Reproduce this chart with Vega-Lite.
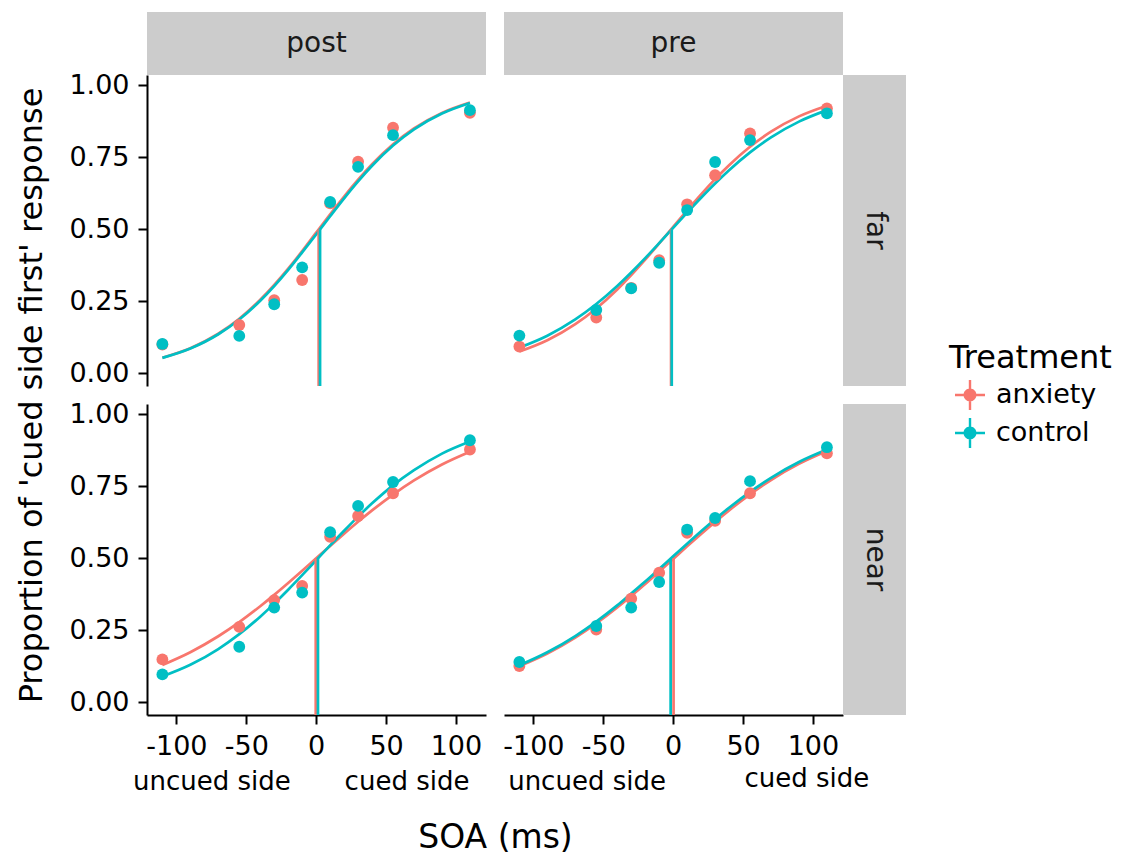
{
"$schema": "https://vega.github.io/schema/vega-lite/v6.json",
"background": "white",
"padding": {"left": 15, "top": 12, "right": 10, "bottom": 5},
"datasets": {
"strips": [{"label": "post"}, {"label": "pre"}, {"label": "far"}, {"label": "near"}],
"main": [
{"kind":"fit","time":"post","dist":"far","trt":"anxiety","soa":-110,"p":0.0543},
{"kind":"fit","time":"post","dist":"far","trt":"anxiety","soa":-90,"p":0.0872},
{"kind":"fit","time":"post","dist":"far","trt":"anxiety","soa":-70,"p":0.1375},
{"kind":"fit","time":"post","dist":"far","trt":"anxiety","soa":-55,"p":0.1895},
{"kind":"fit","time":"post","dist":"far","trt":"anxiety","soa":-40,"p":0.2553},
{"kind":"fit","time":"post","dist":"far","trt":"anxiety","soa":-30,"p":0.3069},
{"kind":"fit","time":"post","dist":"far","trt":"anxiety","soa":-20,"p":0.3635},
{"kind":"fit","time":"post","dist":"far","trt":"anxiety","soa":-10,"p":0.4243},
{"kind":"fit","time":"post","dist":"far","trt":"anxiety","soa":0,"p":0.4885},
{"kind":"fit","time":"post","dist":"far","trt":"anxiety","soa":10,"p":0.5520},
{"kind":"fit","time":"post","dist":"far","trt":"anxiety","soa":20,"p":0.6140},
{"kind":"fit","time":"post","dist":"far","trt":"anxiety","soa":30,"p":0.6723},
{"kind":"fit","time":"post","dist":"far","trt":"anxiety","soa":40,"p":0.7259},
{"kind":"fit","time":"post","dist":"far","trt":"anxiety","soa":55,"p":0.7953},
{"kind":"fit","time":"post","dist":"far","trt":"anxiety","soa":70,"p":0.8505},
{"kind":"fit","time":"post","dist":"far","trt":"anxiety","soa":90,"p":0.9045},
{"kind":"fit","time":"post","dist":"far","trt":"anxiety","soa":110,"p":0.9404},
{"kind":"fit","time":"post","dist":"far","trt":"control","soa":-110,"p":0.0537},
{"kind":"fit","time":"post","dist":"far","trt":"control","soa":-90,"p":0.0862},
{"kind":"fit","time":"post","dist":"far","trt":"control","soa":-70,"p":0.1357},
{"kind":"fit","time":"post","dist":"far","trt":"control","soa":-55,"p":0.1871},
{"kind":"fit","time":"post","dist":"far","trt":"control","soa":-40,"p":0.2521},
{"kind":"fit","time":"post","dist":"far","trt":"control","soa":-30,"p":0.3031},
{"kind":"fit","time":"post","dist":"far","trt":"control","soa":-20,"p":0.3595},
{"kind":"fit","time":"post","dist":"far","trt":"control","soa":-10,"p":0.4201},
{"kind":"fit","time":"post","dist":"far","trt":"control","soa":0,"p":0.4821},
{"kind":"fit","time":"post","dist":"far","trt":"control","soa":10,"p":0.5456},
{"kind":"fit","time":"post","dist":"far","trt":"control","soa":20,"p":0.6078},
{"kind":"fit","time":"post","dist":"far","trt":"control","soa":30,"p":0.6667},
{"kind":"fit","time":"post","dist":"far","trt":"control","soa":40,"p":0.7209},
{"kind":"fit","time":"post","dist":"far","trt":"control","soa":55,"p":0.7911},
{"kind":"fit","time":"post","dist":"far","trt":"control","soa":70,"p":0.8473},
{"kind":"fit","time":"post","dist":"far","trt":"control","soa":90,"p":0.9023},
{"kind":"fit","time":"post","dist":"far","trt":"control","soa":110,"p":0.9390},
{"kind":"fit","time":"pre","dist":"far","trt":"anxiety","soa":-110,"p":0.0755},
{"kind":"fit","time":"pre","dist":"far","trt":"anxiety","soa":-90,"p":0.1147},
{"kind":"fit","time":"pre","dist":"far","trt":"anxiety","soa":-70,"p":0.1706},
{"kind":"fit","time":"pre","dist":"far","trt":"anxiety","soa":-55,"p":0.2252},
{"kind":"fit","time":"pre","dist":"far","trt":"anxiety","soa":-40,"p":0.2912},
{"kind":"fit","time":"pre","dist":"far","trt":"anxiety","soa":-30,"p":0.3411},
{"kind":"fit","time":"pre","dist":"far","trt":"anxiety","soa":-20,"p":0.3947},
{"kind":"fit","time":"pre","dist":"far","trt":"anxiety","soa":-10,"p":0.4511},
{"kind":"fit","time":"pre","dist":"far","trt":"anxiety","soa":0,"p":0.5087},
{"kind":"fit","time":"pre","dist":"far","trt":"anxiety","soa":10,"p":0.566},
{"kind":"fit","time":"pre","dist":"far","trt":"anxiety","soa":20,"p":0.6217},
{"kind":"fit","time":"pre","dist":"far","trt":"anxiety","soa":30,"p":0.6743},
{"kind":"fit","time":"pre","dist":"far","trt":"anxiety","soa":40,"p":0.7229},
{"kind":"fit","time":"pre","dist":"far","trt":"anxiety","soa":55,"p":0.7867},
{"kind":"fit","time":"pre","dist":"far","trt":"anxiety","soa":70,"p":0.8392},
{"kind":"fit","time":"pre","dist":"far","trt":"anxiety","soa":90,"p":0.8923},
{"kind":"fit","time":"pre","dist":"far","trt":"anxiety","soa":110,"p":0.9293},
{"kind":"fit","time":"pre","dist":"far","trt":"control","soa":-110,"p":0.0893},
{"kind":"fit","time":"pre","dist":"far","trt":"control","soa":-90,"p":0.1307},
{"kind":"fit","time":"pre","dist":"far","trt":"control","soa":-70,"p":0.1871},
{"kind":"fit","time":"pre","dist":"far","trt":"control","soa":-55,"p":0.2406},
{"kind":"fit","time":"pre","dist":"far","trt":"control","soa":-40,"p":0.3035},
{"kind":"fit","time":"pre","dist":"far","trt":"control","soa":-30,"p":0.3503},
{"kind":"fit","time":"pre","dist":"far","trt":"control","soa":-20,"p":0.4001},
{"kind":"fit","time":"pre","dist":"far","trt":"control","soa":-10,"p":0.4522},
{"kind":"fit","time":"pre","dist":"far","trt":"control","soa":0,"p":0.5053},
{"kind":"fit","time":"pre","dist":"far","trt":"control","soa":10,"p":0.5583},
{"kind":"fit","time":"pre","dist":"far","trt":"control","soa":20,"p":0.6099},
{"kind":"fit","time":"pre","dist":"far","trt":"control","soa":30,"p":0.6593},
{"kind":"fit","time":"pre","dist":"far","trt":"control","soa":40,"p":0.7054},
{"kind":"fit","time":"pre","dist":"far","trt":"control","soa":55,"p":0.7673},
{"kind":"fit","time":"pre","dist":"far","trt":"control","soa":70,"p":0.8194},
{"kind":"fit","time":"pre","dist":"far","trt":"control","soa":90,"p":0.8741},
{"kind":"fit","time":"pre","dist":"far","trt":"control","soa":110,"p":0.914},
{"kind":"fit","time":"post","dist":"near","trt":"anxiety","soa":-110,"p":0.1298},
{"kind":"fit","time":"post","dist":"near","trt":"anxiety","soa":-90,"p":0.1741},
{"kind":"fit","time":"post","dist":"near","trt":"anxiety","soa":-70,"p":0.2295},
{"kind":"fit","time":"post","dist":"near","trt":"anxiety","soa":-55,"p":0.2786},
{"kind":"fit","time":"post","dist":"near","trt":"anxiety","soa":-40,"p":0.3336},
{"kind":"fit","time":"post","dist":"near","trt":"anxiety","soa":-30,"p":0.3731},
{"kind":"fit","time":"post","dist":"near","trt":"anxiety","soa":-20,"p":0.4144},
{"kind":"fit","time":"post","dist":"near","trt":"anxiety","soa":-10,"p":0.4569},
{"kind":"fit","time":"post","dist":"near","trt":"anxiety","soa":0,"p":0.5},
{"kind":"fit","time":"post","dist":"near","trt":"anxiety","soa":10,"p":0.5431},
{"kind":"fit","time":"post","dist":"near","trt":"anxiety","soa":20,"p":0.5856},
{"kind":"fit","time":"post","dist":"near","trt":"anxiety","soa":30,"p":0.6269},
{"kind":"fit","time":"post","dist":"near","trt":"anxiety","soa":40,"p":0.6664},
{"kind":"fit","time":"post","dist":"near","trt":"anxiety","soa":55,"p":0.7214},
{"kind":"fit","time":"post","dist":"near","trt":"anxiety","soa":70,"p":0.7705},
{"kind":"fit","time":"post","dist":"near","trt":"anxiety","soa":90,"p":0.8259},
{"kind":"fit","time":"post","dist":"near","trt":"anxiety","soa":110,"p":0.8702},
{"kind":"fit","time":"post","dist":"near","trt":"control","soa":-110,"p":0.0899},
{"kind":"fit","time":"post","dist":"near","trt":"control","soa":-90,"p":0.1302},
{"kind":"fit","time":"post","dist":"near","trt":"control","soa":-70,"p":0.1849},
{"kind":"fit","time":"post","dist":"near","trt":"control","soa":-55,"p":0.2367},
{"kind":"fit","time":"post","dist":"near","trt":"control","soa":-40,"p":0.2975},
{"kind":"fit","time":"post","dist":"near","trt":"control","soa":-30,"p":0.3428},
{"kind":"fit","time":"post","dist":"near","trt":"control","soa":-20,"p":0.391},
{"kind":"fit","time":"post","dist":"near","trt":"control","soa":-10,"p":0.4415},
{"kind":"fit","time":"post","dist":"near","trt":"control","soa":0,"p":0.4932},
{"kind":"fit","time":"post","dist":"near","trt":"control","soa":10,"p":0.5451},
{"kind":"fit","time":"post","dist":"near","trt":"control","soa":20,"p":0.596},
{"kind":"fit","time":"post","dist":"near","trt":"control","soa":30,"p":0.645},
{"kind":"fit","time":"post","dist":"near","trt":"control","soa":40,"p":0.691},
{"kind":"fit","time":"post","dist":"near","trt":"control","soa":55,"p":0.7534},
{"kind":"fit","time":"post","dist":"near","trt":"control","soa":70,"p":0.806},
{"kind":"fit","time":"post","dist":"near","trt":"control","soa":90,"p":0.8636},
{"kind":"fit","time":"post","dist":"near","trt":"control","soa":110,"p":0.9056},
{"kind":"fit","time":"pre","dist":"near","trt":"anxiety","soa":-110,"p":0.1257},
{"kind":"fit","time":"pre","dist":"near","trt":"anxiety","soa":-90,"p":0.1697},
{"kind":"fit","time":"pre","dist":"near","trt":"anxiety","soa":-70,"p":0.225},
{"kind":"fit","time":"pre","dist":"near","trt":"anxiety","soa":-55,"p":0.2741},
{"kind":"fit","time":"pre","dist":"near","trt":"anxiety","soa":-40,"p":0.3294},
{"kind":"fit","time":"pre","dist":"near","trt":"anxiety","soa":-30,"p":0.3693},
{"kind":"fit","time":"pre","dist":"near","trt":"anxiety","soa":-20,"p":0.411},
{"kind":"fit","time":"pre","dist":"near","trt":"anxiety","soa":-10,"p":0.4541},
{"kind":"fit","time":"pre","dist":"near","trt":"anxiety","soa":0,"p":0.4978},
{"kind":"fit","time":"pre","dist":"near","trt":"anxiety","soa":10,"p":0.5416},
{"kind":"fit","time":"pre","dist":"near","trt":"anxiety","soa":20,"p":0.5847},
{"kind":"fit","time":"pre","dist":"near","trt":"anxiety","soa":30,"p":0.6266},
{"kind":"fit","time":"pre","dist":"near","trt":"anxiety","soa":40,"p":0.6667},
{"kind":"fit","time":"pre","dist":"near","trt":"anxiety","soa":55,"p":0.7224},
{"kind":"fit","time":"pre","dist":"near","trt":"anxiety","soa":70,"p":0.772},
{"kind":"fit","time":"pre","dist":"near","trt":"anxiety","soa":90,"p":0.8279},
{"kind":"fit","time":"pre","dist":"near","trt":"anxiety","soa":110,"p":0.8724},
{"kind":"fit","time":"pre","dist":"near","trt":"control","soa":-110,"p":0.1286},
{"kind":"fit","time":"pre","dist":"near","trt":"control","soa":-90,"p":0.1737},
{"kind":"fit","time":"pre","dist":"near","trt":"control","soa":-70,"p":0.2302},
{"kind":"fit","time":"pre","dist":"near","trt":"control","soa":-55,"p":0.2804},
{"kind":"fit","time":"pre","dist":"near","trt":"control","soa":-40,"p":0.3367},
{"kind":"fit","time":"pre","dist":"near","trt":"control","soa":-30,"p":0.3781},
{"kind":"fit","time":"pre","dist":"near","trt":"control","soa":-20,"p":0.4195},
{"kind":"fit","time":"pre","dist":"near","trt":"control","soa":-10,"p":0.463},
{"kind":"fit","time":"pre","dist":"near","trt":"control","soa":0,"p":0.507},
{"kind":"fit","time":"pre","dist":"near","trt":"control","soa":10,"p":0.551},
{"kind":"fit","time":"pre","dist":"near","trt":"control","soa":20,"p":0.5942},
{"kind":"fit","time":"pre","dist":"near","trt":"control","soa":30,"p":0.6359},
{"kind":"fit","time":"pre","dist":"near","trt":"control","soa":40,"p":0.6757},
{"kind":"fit","time":"pre","dist":"near","trt":"control","soa":55,"p":0.7309},
{"kind":"fit","time":"pre","dist":"near","trt":"control","soa":70,"p":0.7797},
{"kind":"fit","time":"pre","dist":"near","trt":"control","soa":90,"p":0.8344},
{"kind":"fit","time":"pre","dist":"near","trt":"control","soa":110,"p":0.8776},
{"kind":"pse","time":"post","dist":"far","trt":"anxiety","soa":1.8,"p":0.5},
{"kind":"pse","time":"post","dist":"far","trt":"control","soa":2.8,"p":0.5},
{"kind":"pse","time":"pre","dist":"far","trt":"anxiety","soa":-1.5,"p":0.5},
{"kind":"pse","time":"pre","dist":"far","trt":"control","soa":-1.0,"p":0.5},
{"kind":"pse","time":"post","dist":"near","trt":"anxiety","soa":-0.3,"p":0.5},
{"kind":"pse","time":"post","dist":"near","trt":"control","soa":1.3,"p":0.5},
{"kind":"pse","time":"pre","dist":"near","trt":"anxiety","soa":0.3,"p":0.5},
{"kind":"pse","time":"pre","dist":"near","trt":"control","soa":-1.8,"p":0.5},
{"kind":"pt","time":"post","dist":"far","trt":"anxiety","soa":-110,"p":0.10},
{"kind":"pt","time":"post","dist":"far","trt":"anxiety","soa":-55,"p":0.168},
{"kind":"pt","time":"post","dist":"far","trt":"anxiety","soa":-30,"p":0.254},
{"kind":"pt","time":"post","dist":"far","trt":"anxiety","soa":-10,"p":0.324},
{"kind":"pt","time":"post","dist":"far","trt":"anxiety","soa":10,"p":0.59},
{"kind":"pt","time":"post","dist":"far","trt":"anxiety","soa":30,"p":0.735},
{"kind":"pt","time":"post","dist":"far","trt":"anxiety","soa":55,"p":0.853},
{"kind":"pt","time":"post","dist":"far","trt":"anxiety","soa":110,"p":0.905},
{"kind":"pt","time":"pre","dist":"far","trt":"anxiety","soa":-110,"p":0.093},
{"kind":"pt","time":"pre","dist":"far","trt":"anxiety","soa":-55,"p":0.194},
{"kind":"pt","time":"pre","dist":"far","trt":"anxiety","soa":-30,"p":0.297},
{"kind":"pt","time":"pre","dist":"far","trt":"anxiety","soa":-10,"p":0.393},
{"kind":"pt","time":"pre","dist":"far","trt":"anxiety","soa":10,"p":0.587},
{"kind":"pt","time":"pre","dist":"far","trt":"anxiety","soa":30,"p":0.688},
{"kind":"pt","time":"pre","dist":"far","trt":"anxiety","soa":55,"p":0.833},
{"kind":"pt","time":"pre","dist":"far","trt":"anxiety","soa":110,"p":0.92},
{"kind":"pt","time":"post","dist":"near","trt":"anxiety","soa":-110,"p":0.149},
{"kind":"pt","time":"post","dist":"near","trt":"anxiety","soa":-55,"p":0.262},
{"kind":"pt","time":"post","dist":"near","trt":"anxiety","soa":-30,"p":0.355},
{"kind":"pt","time":"post","dist":"near","trt":"anxiety","soa":-10,"p":0.404},
{"kind":"pt","time":"post","dist":"near","trt":"anxiety","soa":10,"p":0.575},
{"kind":"pt","time":"post","dist":"near","trt":"anxiety","soa":30,"p":0.647},
{"kind":"pt","time":"post","dist":"near","trt":"anxiety","soa":55,"p":0.726},
{"kind":"pt","time":"post","dist":"near","trt":"anxiety","soa":110,"p":0.878},
{"kind":"pt","time":"pre","dist":"near","trt":"anxiety","soa":-110,"p":0.126},
{"kind":"pt","time":"pre","dist":"near","trt":"anxiety","soa":-55,"p":0.253},
{"kind":"pt","time":"pre","dist":"near","trt":"anxiety","soa":-30,"p":0.36},
{"kind":"pt","time":"pre","dist":"near","trt":"anxiety","soa":-10,"p":0.45},
{"kind":"pt","time":"pre","dist":"near","trt":"anxiety","soa":10,"p":0.589},
{"kind":"pt","time":"pre","dist":"near","trt":"anxiety","soa":30,"p":0.63},
{"kind":"pt","time":"pre","dist":"near","trt":"anxiety","soa":55,"p":0.726},
{"kind":"pt","time":"pre","dist":"near","trt":"anxiety","soa":110,"p":0.865},
{"kind":"pt","time":"post","dist":"far","trt":"control","soa":-110,"p":0.102},
{"kind":"pt","time":"post","dist":"far","trt":"control","soa":-55,"p":0.13},
{"kind":"pt","time":"post","dist":"far","trt":"control","soa":-30,"p":0.24},
{"kind":"pt","time":"post","dist":"far","trt":"control","soa":-10,"p":0.368},
{"kind":"pt","time":"post","dist":"far","trt":"control","soa":10,"p":0.595},
{"kind":"pt","time":"post","dist":"far","trt":"control","soa":30,"p":0.717},
{"kind":"pt","time":"post","dist":"far","trt":"control","soa":55,"p":0.827},
{"kind":"pt","time":"post","dist":"far","trt":"control","soa":110,"p":0.914},
{"kind":"pt","time":"pre","dist":"far","trt":"control","soa":-110,"p":0.131},
{"kind":"pt","time":"pre","dist":"far","trt":"control","soa":-55,"p":0.22},
{"kind":"pt","time":"pre","dist":"far","trt":"control","soa":-30,"p":0.295},
{"kind":"pt","time":"pre","dist":"far","trt":"control","soa":-10,"p":0.384},
{"kind":"pt","time":"pre","dist":"far","trt":"control","soa":10,"p":0.567},
{"kind":"pt","time":"pre","dist":"far","trt":"control","soa":30,"p":0.734},
{"kind":"pt","time":"pre","dist":"far","trt":"control","soa":55,"p":0.81},
{"kind":"pt","time":"pre","dist":"far","trt":"control","soa":110,"p":0.903},
{"kind":"pt","time":"post","dist":"near","trt":"control","soa":-110,"p":0.097},
{"kind":"pt","time":"post","dist":"near","trt":"control","soa":-55,"p":0.193},
{"kind":"pt","time":"post","dist":"near","trt":"control","soa":-30,"p":0.329},
{"kind":"pt","time":"post","dist":"near","trt":"control","soa":-10,"p":0.381},
{"kind":"pt","time":"post","dist":"near","trt":"control","soa":10,"p":0.591},
{"kind":"pt","time":"post","dist":"near","trt":"control","soa":30,"p":0.682},
{"kind":"pt","time":"post","dist":"near","trt":"control","soa":55,"p":0.765},
{"kind":"pt","time":"post","dist":"near","trt":"control","soa":110,"p":0.91},
{"kind":"pt","time":"pre","dist":"near","trt":"control","soa":-110,"p":0.14},
{"kind":"pt","time":"pre","dist":"near","trt":"control","soa":-55,"p":0.265},
{"kind":"pt","time":"pre","dist":"near","trt":"control","soa":-30,"p":0.329},
{"kind":"pt","time":"pre","dist":"near","trt":"control","soa":-10,"p":0.418},
{"kind":"pt","time":"pre","dist":"near","trt":"control","soa":10,"p":0.60},
{"kind":"pt","time":"pre","dist":"near","trt":"control","soa":30,"p":0.64},
{"kind":"pt","time":"pre","dist":"near","trt":"control","soa":55,"p":0.768},
{"kind":"pt","time":"pre","dist":"near","trt":"control","soa":110,"p":0.886},
{"kind":"lab","time":"post","dist":"near","soa":-74.6,"p":-0.305,"txt":"uncued side"},
{"kind":"lab","time":"post","dist":"near","soa":65,"p":-0.305,"txt":"cued side"},
{"kind":"lab","time":"pre","dist":"near","soa":-61.6,"p":-0.305,"txt":"uncued side"},
{"kind":"lab","time":"pre","dist":"near","soa":95.6,"p":-0.295,"txt":"cued side"}
]
},
"columns": 4,
"spacing": 0,
"bounds": "flush",
"concat": [
{"width": 339, "height": 63, "data": {"name": "strips"}, "transform": [{"filter": "datum.label === 'post'"}], "mark": {"type": "text", "font": "DejaVu Sans", "fontSize": 28, "color": "#1A1A1A"}, "encoding": {"text": {"field": "label"}}, "view": {"fill": "#CCCCCC", "stroke": null}},
{"width": 18, "height": 63, "data": {"values": []}, "mark": "point"},
{"width": 339, "height": 63, "data": {"name": "strips"}, "transform": [{"filter": "datum.label === 'pre'"}], "mark": {"type": "text", "font": "DejaVu Sans", "fontSize": 28, "color": "#1A1A1A"}, "encoding": {"text": {"field": "label"}}, "view": {"fill": "#CCCCCC", "stroke": null}},
{"width": 63, "height": 63, "data": {"values": []}, "mark": "point"},
{
"width": 339, "height": 311,
"data": {"name": "main"},
"transform": [{"filter": "datum.time === 'post' && datum.dist === 'far'"}],
"encoding": {
"x": {"field": "soa", "type": "quantitative", "scale": {"domain": [-121, 121.5], "nice": false, "zero": false}, "axis": null},
"y": {"field": "p", "type": "quantitative", "scale": {"domain": [-0.044, 1.036], "nice": false, "zero": false}, "axis": {"values": [0, 0.25, 0.5, 0.75, 1], "format": ".2f", "title": "Proportion of 'cued side first' response", "titleFontSize": 32, "titleX": -99, "titleY": 320, "titleAngle": -90, "titleBaseline": "bottom", "titleAlign": "center"}},
"color": {"field": "trt", "type": "nominal", "scale": {"domain": ["anxiety", "control"], "range": ["#F8766D", "#00BFC4"]}, "legend": {"title": "Treatment", "orient": "none", "legendX": 802, "legendY": 331, "symbolType": "M-1,-0.08H1V0.08H-1Z M-0.08,-1H0.08V1H-0.08Z M0.43,0A0.43,0.43 0 1 1 -0.43,0A0.43,0.43 0 1 1 0.43,0Z", "symbolSize": 900, "symbolStrokeWidth": 0, "symbolOpacity": 1, "encode": {"symbols": {"update": {"fill": {"scale": "color", "field": "value"}, "stroke": {"value": "transparent"}}}}}}
},
"layer": [
{"transform": [{"filter": "datum.kind === 'fit'"}], "mark": {"type": "line", "strokeWidth": 2.7, "interpolate": "monotone"}, "encoding": {}},
{"transform": [{"filter": "datum.kind === 'pse'"}], "mark": {"type": "rule", "strokeWidth": 2.7, "clip": true}, "encoding": {"y2": {"datum": -0.1}}},
{"transform": [{"filter": "datum.kind === 'pt'"}], "mark": {"type": "circle", "size": 140, "opacity": 1}, "encoding": {}}
]
},
{"width": 18, "height": 311, "data": {"values": []}, "mark": "point"},
{
"width": 339, "height": 311,
"data": {"name": "main"},
"transform": [{"filter": "datum.time === 'pre' && datum.dist === 'far'"}],
"encoding": {
"x": {"field": "soa", "type": "quantitative", "scale": {"domain": [-121, 121.5], "nice": false, "zero": false}, "axis": null},
"y": {"field": "p", "type": "quantitative", "scale": {"domain": [-0.044, 1.036], "nice": false, "zero": false}, "axis": null},
"color": {"field": "trt", "type": "nominal", "scale": {"domain": ["anxiety", "control"], "range": ["#F8766D", "#00BFC4"]}, "legend": {"title": "Treatment", "orient": "none", "legendX": 802, "legendY": 331, "symbolType": "M-1,-0.08H1V0.08H-1Z M-0.08,-1H0.08V1H-0.08Z M0.43,0A0.43,0.43 0 1 1 -0.43,0A0.43,0.43 0 1 1 0.43,0Z", "symbolSize": 900, "symbolStrokeWidth": 0, "symbolOpacity": 1, "encode": {"symbols": {"update": {"fill": {"scale": "color", "field": "value"}, "stroke": {"value": "transparent"}}}}}}
},
"layer": [
{"transform": [{"filter": "datum.kind === 'fit'"}], "mark": {"type": "line", "strokeWidth": 2.7, "interpolate": "monotone"}, "encoding": {}},
{"transform": [{"filter": "datum.kind === 'pse'"}], "mark": {"type": "rule", "strokeWidth": 2.7, "clip": true}, "encoding": {"y2": {"datum": -0.1}}},
{"transform": [{"filter": "datum.kind === 'pt'"}], "mark": {"type": "circle", "size": 140, "opacity": 1}, "encoding": {}}
]
},
{"width": 63, "height": 311, "data": {"name": "strips"}, "transform": [{"filter": "datum.label === 'far'"}], "mark": {"type": "text", "font": "DejaVu Sans", "fontSize": 28, "color": "#1A1A1A", "angle": 90}, "encoding": {"text": {"field": "label"}}, "view": {"fill": "#CCCCCC", "stroke": null}},
{"width": 339, "height": 18, "data": {"values": []}, "mark": "point"},
{"width": 18, "height": 18, "data": {"values": []}, "mark": "point"},
{"width": 339, "height": 18, "data": {"values": []}, "mark": "point"},
{"width": 63, "height": 18, "data": {"values": []}, "mark": "point"},
{
"width": 339, "height": 311,
"data": {"name": "main"},
"transform": [{"filter": "datum.time === 'post' && datum.dist === 'near'"}],
"encoding": {
"x": {"field": "soa", "type": "quantitative", "scale": {"domain": [-121, 121.5], "nice": false, "zero": false}, "axis": {"values": [-100, -50, 0, 50, 100], "labelExpr": "'' + datum.value", "title": "SOA (ms)", "titleX": 348, "titleY": 132, "titleBaseline": "alphabetic", "titleAlign": "center"}},
"y": {"field": "p", "type": "quantitative", "scale": {"domain": [-0.044, 1.036], "nice": false, "zero": false}, "axis": {"values": [0, 0.25, 0.5, 0.75, 1], "format": ".2f", "title": null}},
"color": {"field": "trt", "type": "nominal", "scale": {"domain": ["anxiety", "control"], "range": ["#F8766D", "#00BFC4"]}, "legend": {"title": "Treatment", "orient": "none", "legendX": 802, "legendY": 331, "symbolType": "M-1,-0.08H1V0.08H-1Z M-0.08,-1H0.08V1H-0.08Z M0.43,0A0.43,0.43 0 1 1 -0.43,0A0.43,0.43 0 1 1 0.43,0Z", "symbolSize": 900, "symbolStrokeWidth": 0, "symbolOpacity": 1, "encode": {"symbols": {"update": {"fill": {"scale": "color", "field": "value"}, "stroke": {"value": "transparent"}}}}}}
},
"layer": [
{"transform": [{"filter": "datum.kind === 'fit'"}], "mark": {"type": "line", "strokeWidth": 2.7, "interpolate": "monotone"}, "encoding": {}},
{"transform": [{"filter": "datum.kind === 'pse'"}], "mark": {"type": "rule", "strokeWidth": 2.7, "clip": true}, "encoding": {"y2": {"datum": -0.1}}},
{"transform": [{"filter": "datum.kind === 'pt'"}], "mark": {"type": "circle", "size": 140, "opacity": 1}, "encoding": {}},
{"transform": [{"filter": "datum.kind === 'lab'"}], "mark": {"type": "text", "font": "DejaVu Sans", "fontSize": 26, "baseline": "alphabetic", "align": "center"}, "encoding": {"text": {"field": "txt"}, "color": {"value": "black"}}}
]
},
{"width": 18, "height": 311, "data": {"values": []}, "mark": "point"},
{
"width": 339, "height": 311,
"data": {"name": "main"},
"transform": [{"filter": "datum.time === 'pre' && datum.dist === 'near'"}],
"encoding": {
"x": {"field": "soa", "type": "quantitative", "scale": {"domain": [-121, 121.5], "nice": false, "zero": false}, "axis": {"values": [-100, -50, 0, 50, 100], "labelExpr": "'' + datum.value", "title": null}},
"y": {"field": "p", "type": "quantitative", "scale": {"domain": [-0.044, 1.036], "nice": false, "zero": false}, "axis": null},
"color": {"field": "trt", "type": "nominal", "scale": {"domain": ["anxiety", "control"], "range": ["#F8766D", "#00BFC4"]}, "legend": {"title": "Treatment", "orient": "none", "legendX": 802, "legendY": 331, "symbolType": "M-1,-0.08H1V0.08H-1Z M-0.08,-1H0.08V1H-0.08Z M0.43,0A0.43,0.43 0 1 1 -0.43,0A0.43,0.43 0 1 1 0.43,0Z", "symbolSize": 900, "symbolStrokeWidth": 0, "symbolOpacity": 1, "encode": {"symbols": {"update": {"fill": {"scale": "color", "field": "value"}, "stroke": {"value": "transparent"}}}}}}
},
"layer": [
{"transform": [{"filter": "datum.kind === 'fit'"}], "mark": {"type": "line", "strokeWidth": 2.7, "interpolate": "monotone"}, "encoding": {}},
{"transform": [{"filter": "datum.kind === 'pse'"}], "mark": {"type": "rule", "strokeWidth": 2.7, "clip": true}, "encoding": {"y2": {"datum": -0.1}}},
{"transform": [{"filter": "datum.kind === 'pt'"}], "mark": {"type": "circle", "size": 140, "opacity": 1}, "encoding": {}},
{"transform": [{"filter": "datum.kind === 'lab'"}], "mark": {"type": "text", "font": "DejaVu Sans", "fontSize": 26, "baseline": "alphabetic", "align": "center"}, "encoding": {"text": {"field": "txt"}, "color": {"value": "black"}}}
]
},
{"width": 63, "height": 311, "data": {"name": "strips"}, "transform": [{"filter": "datum.label === 'near'"}], "mark": {"type": "text", "font": "DejaVu Sans", "fontSize": 28, "color": "#1A1A1A", "angle": 90}, "encoding": {"text": {"field": "label"}}, "view": {"fill": "#CCCCCC", "stroke": null}}
],
"config": {
"view": {"stroke": null},
"font": "DejaVu Sans",
"axis": {"grid": false, "domainColor": "black", "domainWidth": 2, "tickColor": "black", "tickWidth": 2, "tickSize": 9, "labelPadding": 9, "labelFont": "DejaVu Sans", "labelFontSize": 27, "labelColor": "black", "titleFont": "DejaVu Sans", "titleFontSize": 33, "titleFontWeight": "normal", "titleColor": "black"},
"legend": {"titleFont": "DejaVu Sans", "titleFontSize": 32, "titleFontWeight": "normal", "titleColor": "black", "labelFont": "DejaVu Sans", "labelFontSize": 27, "labelColor": "black", "symbolOffset": 6, "labelOffset": 11, "rowPadding": 8, "titlePadding": 5, "padding": 0}
}
}
